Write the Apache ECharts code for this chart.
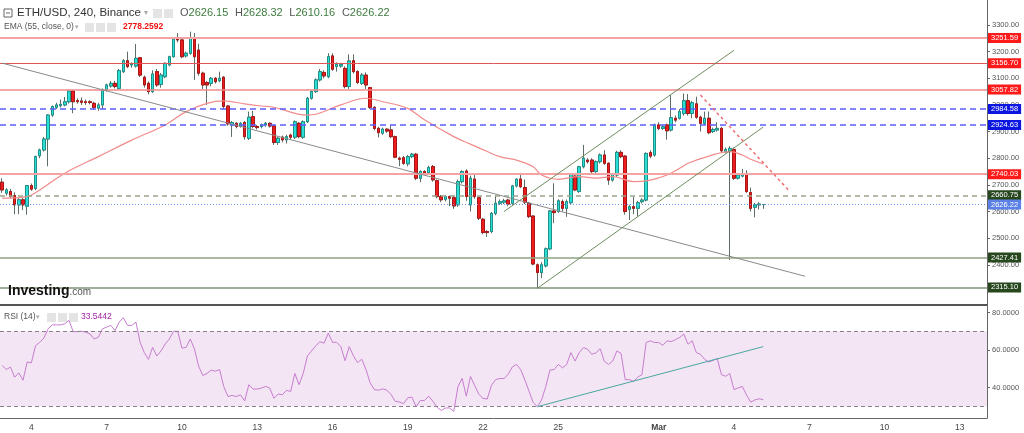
<!DOCTYPE html>
<html>
<head>
<meta charset="utf-8">
<script src="https://cdn.jsdelivr.net/npm/echarts@6/dist/echarts.min.js"></script>
<style>
  html, body { margin: 0; padding: 0; background: #fff; }
  #chart { width: 1024px; height: 433px; }
</style>
</head>
<body>
<div id="chart"></div>
<script>
// ETH/USD 240 分钟 K 线 + EMA55 + RSI14
var slotCount = 236;
var tickIdx = [7, 25, 43, 61, 79, 97, 115, 133, 157, 175, 193, 211, 229];
var tickLabels = ['4', '7', '10', '13', '16', '19', '22', '25', 'Mar', '4', '7', '10', '13'];
var priceTicks = [2400, 2500, 2600, 2700, 2800, 2900, 3000, 3100, 3200, 3300];
var rsiTicks = [40, 60, 80];

// [open, close, low, high]
var candles = [
  [2710,2681,2670,2725],[2669,2681,2660,2688],[2675,2656,2650,2685],[2660,2625,2590,2672],[2625,2644,2590,2650],
  [2644,2625,2605,2650],[2620,2697,2588,2700],[2697,2684,2678,2705],[2687,2806,2680,2810],[2809,2831,2800,2836],
  [2831,2872,2825,2880],[2872,2962,2770,2966],[2962,2994,2955,2998],[2991,3000,2985,3008],[2997,3002,2990,3020],
  [3000,3012,2995,3030],[3012,3052,3005,3056],[3052,3012,2969,3056],[3016,3012,3005,3025],[3015,3010,3000,3028],
  [3012,3009,3000,3020],[3012,3009,3002,3018],[3006,2991,2982,3012],[2988,3000,2978,3008],[3000,3056,2985,3062],
  [3056,3075,3050,3080],[3071,3081,3065,3090],[3081,3069,3062,3090],[3062,3129,3058,3135],[3125,3166,3120,3172],
  [3166,3144,3138,3200],[3150,3152,3140,3160],[3146,3175,3140,3229],[3177,3112,3105,3180],[3104,3075,3065,3110],
  [3081,3050,3040,3088],[3050,3116,3045,3130],[3125,3075,3068,3135],[3077,3112,3065,3120],[3106,3156,3100,3160],
  [3150,3181,3145,3185],[3181,3247,3178,3250],[3247,3244,3235,3270],[3244,3181,3175,3250],[3184,3194,3178,3200],
  [3194,3250,3188,3275],[3250,3181,3094,3270],[3206,3119,3110,3230],[3119,3075,3060,3125],[3084,3075,3000,3090],
  [3081,3100,3070,3105],[3100,3087,3080,3105],[3091,3100,3085,3125],[3104,2994,2985,3108],[2996,2929,2922,3000],
  [2925,2934,2880,2940],[2931,2919,2912,2936],[2921,2931,2915,2936],[2934,2881,2870,2940],[2875,2954,2868,2975],
  [2956,2919,2912,2978],[2919,2915,2908,2925],[2919,2925,2912,2930],[2925,2931,2918,2936],[2931,2921,2915,2935],
  [2921,2859,2850,2925],[2859,2875,2850,2880],[2879,2869,2860,2885],[2869,2881,2855,2888],[2887,2879,2870,2892],
  [2879,2937,2872,2942],[2931,2881,2875,2936],[2879,2937,2872,2942],[2937,3025,2932,3030],[3025,3050,3020,3055],
  [3050,3094,3045,3100],[3094,3125,3088,3135],[3122,3109,3100,3130],[3106,3181,3100,3194],[3184,3134,3128,3194],
  [3144,3152,3125,3160],[3146,3152,3140,3158],[3137,3069,3062,3145],[3069,3165,3060,3190],[3166,3125,3118,3190],
  [3125,3084,3078,3130],[3081,3112,3075,3120],[3112,3075,3060,3122],[3065,2991,2985,3068],[2991,2912,2905,2995],
  [2912,2896,2878,2918],[2894,2909,2888,2915],[2909,2902,2895,2912],[2906,2881,2875,2925],[2881,2804,2800,2885],
  [2800,2796,2770,2806],[2802,2781,2775,2808],[2779,2806,2770,2812],[2806,2815,2800,2820],[2815,2725,2718,2820],
  [2725,2750,2710,2755],[2750,2744,2738,2755],[2746,2765,2740,2772],[2769,2719,2712,2775],[2716,2656,2650,2720],
  [2656,2644,2635,2662],[2646,2656,2638,2662],[2656,2650,2620,2660],[2652,2621,2610,2660],[2625,2712,2618,2720],
  [2712,2750,2705,2755],[2752,2656,2640,2758],[2625,2725,2600,2735],[2722,2656,2648,2738],[2652,2575,2568,2656],
  [2571,2521,2515,2576],[2525,2521,2505,2530],[2525,2593,2518,2598],[2593,2631,2586,2660],[2631,2637,2625,2645],
  [2635,2640,2628,2648],[2643,2628,2620,2648],[2631,2696,2625,2700],[2696,2721,2690,2725],[2722,2693,2688,2745],
  [2690,2635,2628,2720],[2631,2581,2575,2636],[2583,2403,2398,2586],[2400,2371,2312,2405],[2371,2400,2350,2410],
  [2396,2460,2390,2465],[2460,2602,2455,2606],[2602,2596,2556,2706],[2600,2640,2595,2646],[2637,2612,2600,2645],
  [2612,2637,2580,2645],[2633,2740,2628,2745],[2733,2681,2676,2740],[2675,2768,2670,2772],[2768,2800,2762,2850],
  [2793,2787,2780,2800],[2793,2750,2740,2800],[2750,2787,2745,2792],[2787,2812,2780,2818],[2812,2781,2775,2830],
  [2781,2718,2700,2785],[2718,2740,2712,2745],[2737,2822,2730,2828],[2822,2806,2800,2830],[2808,2600,2588,2812],
  [2608,2618,2568,2625],[2618,2612,2590,2656],[2612,2633,2581,2640],[2637,2643,2630,2650],[2643,2818,2638,2822],
  [2821,2808,2800,2830],[2812,2925,2806,2930],[2925,2912,2905,2935],[2912,2918,2906,2925],[2925,2903,2870,2930],
  [2906,2952,2900,3037],[2950,2943,2935,2960],[2950,2975,2945,2985],[2968,3016,2960,3043],[3016,2968,2960,3041],
  [2968,3008,2950,3015],[3004,2954,2948,3031],[2954,2931,2900,2960],[2931,2950,2925,2975],[2950,2896,2890,2975],
  [2900,2908,2895,2915],[2906,2912,2900,2935],[2912,2828,2820,2918],[2825,2833,2818,2840],[2825,2837,2418,2845],
  [2833,2725,2718,2840],[2725,2737,2720,2745],[2733,2740,2728,2760],[2743,2675,2670,2755],[2671,2612,2600,2690],
  [2616,2625,2578,2632],[2625,2628,2608,2635],[2626.15,2626.22,2610.16,2628.32]
];

// EMA(55) 读图取点 [index, value]
var emaPoints = [
  [0,2650],[6,2656],[9,2681],[15,2744],[23,2806],[31,2868],[39,2925],[44,2975],[49,3006],[53,3015],
  [58,3004],[62,2996],[65,2991],[73,2962],[75,2965],[81,3000],[87,3025],[91,3012],[97,2987],[101,2944],
  [108,2881],[112,2853],[116,2825],[119,2806],[123,2793],[127,2768],[129,2737],[133,2721],[138,2731],[142,2725],
  [146,2731],[151,2712],[155,2718],[159,2737],[162,2762],[164,2781],[169,2808],[174,2825],[177,2812],[179,2796],
  [182,2778.26]
];

var rsi = [
  51.8,49.6,50.9,45.5,47.8,43.9,53.6,53.2,62.3,64.1,
  66.4,71.3,73.4,73.4,73.4,74.0,75.8,69.8,69.8,70.0,
  69.5,68.6,65.9,66.8,71.3,72.2,73.1,70.4,74.9,77.2,
  73.1,73.1,74.9,64.1,58.6,55.0,61.4,56.8,59.5,63.2,
  65.9,70.0,70.0,61.0,61.4,65.9,60.5,51.4,46.4,47.5,
  49.3,48.7,49.6,40.6,35.2,35.8,35.2,36.1,32.9,41.5,
  39.2,39.2,39.7,40.6,39.7,34.3,36.5,36.1,38.5,37.9,
  47.5,41.5,47.5,56.8,59.5,62.3,64.4,63.7,69.0,64.1,
  64.1,61.8,54.3,61.8,56.9,53.3,55.1,49.7,42.5,38.9,
  38.6,39.3,38.6,36.3,32.7,32.3,31.4,34.5,34.9,29.7,
  33.1,33.1,35.4,32.7,29.5,27.8,29.1,29.1,27.3,40.4,
  44.9,35.4,45.9,41.1,36.4,34.2,33.9,41.1,44.2,44.8,
  44.8,47.0,51.0,52.3,49.6,44.0,38.0,32.0,29.8,33.4,
  40.6,49.3,49.6,52.3,50.5,52.3,58.6,54.1,58.6,61.3,
  60.4,57.7,58.5,60.7,54.0,52.3,54.1,59.5,58.2,44.2,
  44.2,43.3,45.5,46.9,64.0,64.9,64.0,64.0,62.5,64.9,
  64.5,65.5,66.7,68.5,63.1,64.9,58.6,57.7,55.0,53.6,
  54.5,55.4,46.9,46.0,47.5,38.9,39.8,40.6,36.0,32.2,
  33.4,34.0,33.5442
];

var levelValues = [3251.59, 3156.70, 3057.82, 2984.58, 2924.63, 2740.03, 2660.75, 2626.22, 2427.41, 2315.10];
var emaLast = 2778.26;
var rsiLast = 33.5442;
var rsiBand = [30, 70];
// 趋势线 [x1, y1, x2, y2]
var trendLines = [
  [0, 3157, 192, 2357],
  [120.3, 2600, 174.5, 3205],
  [128.4, 2312, 182.4, 2917],
  [166.5, 3037, 187.6, 2681]
];
var rsiTrend = [128.2, 29.8, 182.2, 61.8];

var myChart = echarts.init(document.getElementById('chart'));

var cats = [];
for (var i = 0; i < slotCount; i++) cats.push(String(i));

var FONT = 'Liberation Sans';
var RED = '#ff1a1a', BLUE = '#0b16e0', DKGREEN = '#27471f';
var levelStyle = [
  { line: { color: '#f5a3a3', width: 2, type: 'solid' }, box: RED },
  { line: { color: '#e05555', width: 1, type: 'solid' }, box: RED },
  { line: { color: '#f08a8a', width: 1.5, type: 'solid' }, box: RED },
  { line: { color: '#5c5cff', width: 1.5, type: [6, 4] }, box: BLUE },
  { line: { color: '#5c5cff', width: 1.5, type: [6, 4] }, box: BLUE },
  { line: { color: '#f5a3a3', width: 2, type: 'solid' }, box: RED },
  { line: { color: '#99a58c', width: 1.5, type: [5, 4] }, box: DKGREEN },
  { line: { color: '#6d8fe8', width: 1, type: [1, 2] }, box: '#5b80e6' },
  { line: { color: '#8fa383', width: 1.5, type: 'solid' }, box: DKGREEN },
  { line: { color: '#7f9374', width: 1.5, type: 'solid' }, box: DKGREEN }
];
var trendColors = [
  { color: '#8a8a8a', width: 1, type: 'solid' },
  { color: '#6f8d5e', width: 1, type: 'solid' },
  { color: '#6f8d5e', width: 1, type: 'solid' },
  { color: '#f07070', width: 1.5, type: [3, 3] }
];

function boxLabel(bg, digits) {
  return {
    show: true, position: 'end', distance: 1,
    formatter: function (p) { return Number(p.value).toFixed(digits); },
    color: '#fff', backgroundColor: bg, padding: [1, 3, 1, 3],
    fontSize: 7.5, lineHeight: 8, fontFamily: FONT
  };
}

var mainMarks = [];
levelValues.forEach(function (v, k) {
  mainMarks.push({ yAxis: v, lineStyle: levelStyle[k].line, label: boxLabel(levelStyle[k].box, 2) });
});
mainMarks.push({ yAxis: emaLast, lineStyle: { opacity: 0 }, label: boxLabel(RED, 2) });
trendLines.forEach(function (t, k) {
  mainMarks.push([
    { coord: [t[0], t[1]], lineStyle: trendColors[k], label: { show: false } },
    { coord: [t[2], t[3]] }
  ]);
});

var bodies = candles.map(function (c) {
  return [c[0], c[1], Math.min(c[0], c[1]), Math.max(c[0], c[1])];
});

function tickFn(index) { return tickIdx.indexOf(index) >= 0; }

option = {
  animation: false,
  backgroundColor: '#fff',
  grid: [
    { left: 0, top: 0, width: 987, height: 305 },
    { left: 0, top: 306, width: 987, height: 112 }
  ],
  xAxis: [
    {
      type: 'category', gridIndex: 0, data: cats, boundaryGap: true,
      axisLine: { lineStyle: { color: '#555', width: 2 } },
      axisTick: { show: false }, axisLabel: { show: false }, splitLine: { show: false }
    },
    {
      type: 'category', gridIndex: 1, data: cats, boundaryGap: true,
      axisLine: { lineStyle: { color: '#666', width: 1 } },
      axisTick: { interval: tickFn, alignWithLabel: true, length: 4, lineStyle: { color: '#666' } },
      axisLabel: {
        interval: tickFn, color: '#444', fontSize: 8.5, fontFamily: FONT, margin: 5,
        formatter: function (v, i) {
          var k = tickIdx.indexOf(Number(v));
          if (k < 0) return '';
          return tickLabels[k] === 'Mar' ? '{b|Mar}' : tickLabels[k];
        },
        rich: { b: { fontWeight: 'bold', fontSize: 8.5, color: '#444', fontFamily: FONT } }
      },
      splitLine: { show: false }
    }
  ],
  yAxis: [
    {
      type: 'value', gridIndex: 0, position: 'right', min: 2249.15, max: 3393.83,
      axisLine: { show: true, lineStyle: { color: '#666' } },
      axisTick: { show: true, length: 3, customValues: priceTicks, lineStyle: { color: '#666' } },
      axisLabel: {
        customValues: priceTicks, color: '#555', fontSize: 7.5, fontFamily: FONT, margin: 5,
        formatter: function (v) { return v.toFixed(2); }
      },
      splitLine: { show: false }
    },
    {
      type: 'value', gridIndex: 1, position: 'right', min: 23.76, max: 83.46,
      axisLine: { show: true, lineStyle: { color: '#666' } },
      axisTick: { show: true, length: 3, customValues: rsiTicks, lineStyle: { color: '#666' } },
      axisLabel: {
        customValues: rsiTicks, color: '#555', fontSize: 7.5, fontFamily: FONT, margin: 5,
        formatter: function (v) { return v.toFixed(4); }
      },
      splitLine: { show: false }
    }
  ],
  series: [
    {
      name: 'wick', type: 'candlestick', xAxisIndex: 0, yAxisIndex: 0,
      data: candles, barWidth: 3, z: 2,
      itemStyle: {
        color: 'transparent', color0: 'transparent',
        borderColor: '#5d6e66', borderColor0: '#5d6e66', borderWidth: 1
      },
      markLine: {
        silent: true, symbol: ['none', 'none'], animation: false,
        data: mainMarks
      }
    },
    {
      name: 'body', type: 'candlestick', xAxisIndex: 0, yAxisIndex: 0,
      data: bodies, barWidth: 3, z: 3,
      itemStyle: {
        color: '#2ae0d6', color0: '#ee1c1c',
        borderColor: '#1f9088', borderColor0: '#a81515', borderWidth: 1
      }
    },
    {
      name: 'EMA', type: 'line', xAxisIndex: 0, yAxisIndex: 0,
      data: emaPoints, smooth: 0.4, symbol: 'none', z: 4,
      lineStyle: { color: '#f28b8b', width: 1.2 }
    },
    {
      name: 'RSI', type: 'line', xAxisIndex: 1, yAxisIndex: 1,
      data: rsi, symbol: 'none', z: 4,
      lineStyle: { color: '#c77dd0', width: 1 },
      markArea: {
        silent: true,
        itemStyle: { color: '#f3e5f3' },
        data: [[{ yAxis: rsiBand[0] }, { yAxis: rsiBand[1] }]]
      },
      markLine: {
        silent: true, symbol: ['none', 'none'], animation: false,
        data: [
          { yAxis: rsiBand[0], lineStyle: { color: '#8c7f8c', width: 1, type: [4, 3] }, label: { show: false } },
          { yAxis: rsiBand[1], lineStyle: { color: '#8c7f8c', width: 1, type: [4, 3] }, label: { show: false } },
          { yAxis: rsiLast, lineStyle: { opacity: 0 }, label: boxLabel('#8b128b', 4) },
          [
            { coord: [rsiTrend[0], rsiTrend[1]], lineStyle: { color: '#4aa8a0', width: 1, type: 'solid' }, label: { show: false } },
            { coord: [rsiTrend[2], rsiTrend[3]] }
          ]
        ]
      }
    }
  ],
  graphic: [
    // 标题栏
    { type: 'rect', shape: { x: 4, y: 9, width: 8, height: 8 }, style: { fill: '#fff', stroke: '#666', lineWidth: 1 } },
    { type: 'line', shape: { x1: 6, y1: 13, x2: 10, y2: 13 }, style: { stroke: '#666', lineWidth: 1 } },
    { type: 'text', x: 17, y: 13, style: { text: 'ETH/USD, 240, Binance', fill: '#333', font: '11.5px "Liberation Sans"', textVerticalAlign: 'middle' } },
    { type: 'text', x: 144, y: 13, style: { text: '▾', fill: '#aaa', font: '8px "DejaVu Sans"', textVerticalAlign: 'middle' } },
    { type: 'rect', shape: { x: 153, y: 9, width: 9, height: 9 }, style: { fill: '#e4e4e4' } },
    { type: 'rect', shape: { x: 164, y: 9, width: 9, height: 9 }, style: { fill: '#e4e4e4' } },
    {
      type: 'text', x: 180, y: 13,
      style: {
        text: '{g|O}{v|2626.15}  {g|H}{v|2628.32}  {g|L}{v|2610.16}  {g|C}{v|2626.22}',
        textVerticalAlign: 'middle',
        rich: {
          g: { fill: '#555', font: '11px "Liberation Sans"' },
          v: { fill: '#3d7b3d', font: '11px "Liberation Sans"' }
        }
      }
    },
    { type: 'text', x: 4, y: 27, style: { text: 'EMA (55, close, 0)', fill: '#555', font: '8.5px "Liberation Sans"', textVerticalAlign: 'middle' } },
    { type: 'text', x: 75, y: 27, style: { text: '▾', fill: '#aaa', font: '7px "DejaVu Sans"', textVerticalAlign: 'middle' } },
    { type: 'rect', shape: { x: 85, y: 23, width: 9, height: 9 }, style: { fill: '#e4e4e4' } },
    { type: 'rect', shape: { x: 96, y: 23, width: 9, height: 9 }, style: { fill: '#e4e4e4' } },
    { type: 'rect', shape: { x: 107, y: 23, width: 9, height: 9 }, style: { fill: '#e4e4e4' } },
    { type: 'text', x: 123, y: 27, style: { text: '2778.2592', fill: '#f01010', font: 'bold 8.5px "Liberation Sans"', textVerticalAlign: 'middle' } },
    // RSI 标题
    { type: 'text', x: 4, y: 317, style: { text: 'RSI (14)', fill: '#555', font: '8.5px "Liberation Sans"', textVerticalAlign: 'middle' } },
    { type: 'text', x: 36, y: 317, style: { text: '▾', fill: '#aaa', font: '7px "DejaVu Sans"', textVerticalAlign: 'middle' } },
    { type: 'rect', shape: { x: 47, y: 313, width: 9, height: 9 }, style: { fill: '#e4e4e4' } },
    { type: 'rect', shape: { x: 58, y: 313, width: 9, height: 9 }, style: { fill: '#e4e4e4' } },
    { type: 'rect', shape: { x: 69, y: 313, width: 9, height: 9 }, style: { fill: '#e4e4e4' } },
    { type: 'text', x: 81, y: 317, style: { text: '33.5442', fill: '#a020a0', font: '8.5px "Liberation Sans"', textVerticalAlign: 'middle' } },
    // Investing.com logo
    {
      type: 'text', x: 8, y: 291, z: 10,
      style: {
        text: '{a|Investing}{b|.com}', textVerticalAlign: 'middle',
        rich: {
          a: { fill: '#111', font: 'bold 14px "Liberation Sans"' },
          b: { fill: '#555', font: '10px "Liberation Sans"', padding: [3, 0, 0, 0] }
        }
      }
    }
  ]
};

myChart.setOption(option);
</script>
</body>
</html>
